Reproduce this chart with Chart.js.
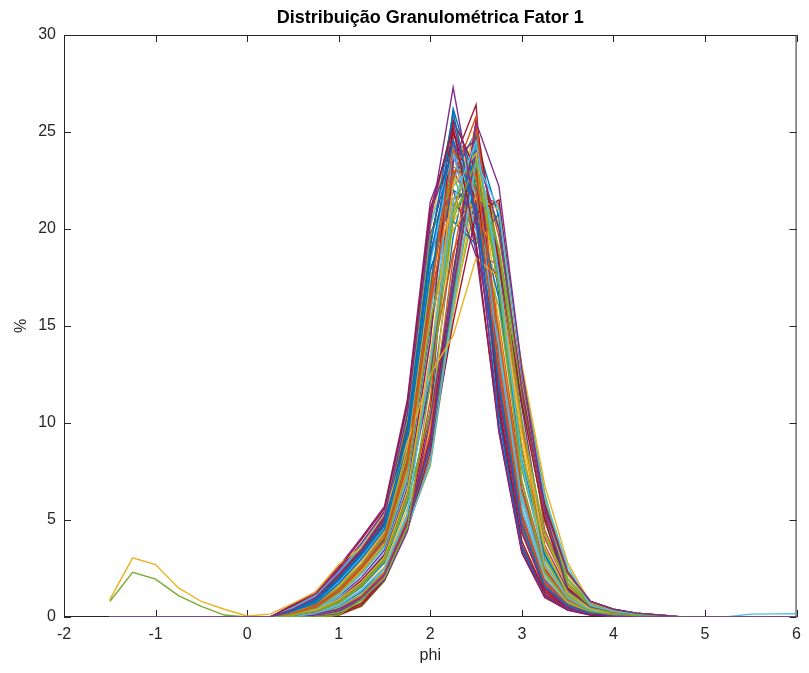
<!DOCTYPE html>
<html>
<head>
<meta charset="utf-8">
<script src="https://cdn.jsdelivr.net/npm/chart.js@4.4.3/dist/chart.umd.min.js"></script>
<style>
  html, body { margin: 0; padding: 0; background: #fff; }
  #wrap { width: 809px; height: 673px; }
</style>
</head>
<body>
<div id="wrap"><canvas id="c" width="809" height="673"></canvas></div>
<script>
(function () {
  'use strict';

  var TITLE = 'Distribuição Granulométrica Fator 1';
  var X_LABEL = 'phi';
  var Y_LABEL = '%';

  // phi classes (x values)
  var phi = [-1.5, -1.25, -1, -0.75, -0.5, -0.25, 0, 0.25,
    0.5, 0.75, 1, 1.25, 1.5, 1.75, 2, 2.25, 2.5, 2.75, 3, 3.25, 3.5, 3.75, 4, 4.25, 4.5,
    4.75, 5, 5.25, 5.5, 5.75, 6];

  var xTicks = [-2, -1, 0, 1, 2, 3, 4, 5, 6];
  var yTicks = [0, 5, 10, 15, 20, 25, 30];

  // sample curves (% per class)
  var cPeak     = [0,0,0,0,0,0,0,0, 0.4,1.0,2.2,3.5,5.2,10.5,20.3,27.3,20.7,9.6,3.4,1.1,0.4,0.15,0.05,0,0, 0,0,0,0,0,0];
  var cGreen    = [0.8,2.3,1.95,1.1,0.55,0.1,0,0, 0,0,0.1,0.9,2.0,4.6,12.0,20.5,23.5,17.0,7.0,2.3,0.8,0.3,0.1,0.05,0, 0,0,0,0,0,0];
  var cTail     = [0,0,0,0,0,0,0,0, 0,0.2,0.6,1.4,2.5,5.3,13.2,21.4,24.5,17.6,8.0,2.7,1.0,0.35,0.1,0.05,0, 0,0,0.02,0.15,0.16,0.17];
  var cYellow   = [0.9,3.05,2.7,1.5,0.8,0.4,0.05,0.15, 0.7,1.3,2.7,3.6,5.3,9.0,12.5,14.5,18.5,17.5,9.5,3.6,1.2,0.4,0.15,0.05,0, 0,0,0,0,0,0];
  var cShoulder = [0,0,0,0,0,0,0,0, 0,0.1,0.3,0.9,1.9,4.4,10.2,17.5,25.5,22.2,12.8,5.6,2.3,0.8,0.4,0.2,0.1, 0,0,0,0,0,0];
  var c01 = [0,0,0,0,0,0,0,0, 0.6,1.2,2.5,4.0,5.6,11.0,21.0,25.2,19.3,9.5,3.3,1.0,0.35,0.1,0.05,0,0, 0,0,0,0,0,0];
  var c02 = [0,0,0,0,0,0,0,0, 0.3,0.8,1.9,3.2,4.7,9.4,18.5,24.6,21.0,12.0,4.8,1.6,0.6,0.2,0.1,0.05,0, 0,0,0,0,0,0];
  var c03 = [0,0,0,0,0,0,0,0, 0.2,0.5,1.3,2.5,3.9,7.8,16.0,23.0,22.8,14.5,6.5,2.4,0.9,0.3,0.15,0.05,0, 0,0,0,0,0,0];
  var c04 = [0,0,0,0,0,0,0,0, 0.1,0.3,0.8,1.7,3.0,6.2,13.0,21.0,24.5,17.0,8.5,3.4,1.3,0.45,0.2,0.1,0.1, 0,0,0,0,0,0];
  var c05 = [0,0,0,0,0,0,0,0, 0,0.1,0.3,0.9,2.0,4.6,8.0,16.0,23.5,21.0,12.6,6.2,2.6,0.6,0.3,0.15,0.05, 0,0,0,0,0,0];
  var c06 = [0,0,0,0,0,0,0,0, 0,0,0.1,0.6,1.9,4.5,8.5,15.2,20.8,21.5,12.5,5.8,2.3,0.8,0.4,0.2,0.1, 0,0,0,0,0,0];
  var c07 = [0,0,0,0,0,0,0,0, 0.35,0.9,2.0,3.3,4.9,9.7,19.0,26.0,20.4,10.2,3.6,1.1,0.4,0.15,0.05,0,0, 0,0,0,0,0,0];
  var c08 = [0,0,0,0,0,0,0,0, 0.2,0.6,1.4,2.6,4.1,8.1,16.6,24.1,22.0,12.6,5.0,1.7,0.6,0.2,0.1,0.05,0, 0,0,0,0,0,0];
  var c09 = [0,0,0,0,0,0,0,0, 0.1,0.35,0.9,1.8,3.1,6.5,13.5,22.3,23.9,17.0,9.0,2.6,1.0,0.3,0.15,0.05,0, 0,0,0,0,0,0];
  var c10 = [0,0,0,0,0,0,0,0, 0,0.15,0.4,1.0,2.2,4.9,9.0,17.0,24.0,20.0,11.8,5.5,1.4,0.5,0.2,0.1,0.05, 0,0,0,0,0,0];
  var c11 = [0,0,0,0,0,0,0,0, 0.15,0.45,1.2,2.3,3.7,7.4,15.2,20.9,22.4,19.0,10.1,4.3,1.7,0.55,0.25,0.1,0.05, 0,0,0,0,0,0];
  var c12 = [0,0,0,0,0,0,0,0, 0.5,1.1,2.3,3.7,5.3,10.6,20.2,23.8,20.0,14.0,6.2,2.3,0.85,0.3,0.1,0.05,0, 0,0,0,0,0,0];
  var c13 = [0,0,0,0,0,0,0,0, 0.1,0.3,0.9,1.9,3.2,6.6,14.2,25.6,23.0,10.8,3.7,1.2,0.4,0.15,0.05,0,0, 0,0,0,0,0,0];
  var c14 = [0,0,0,0,0,0,0,0, 0.3,0.7,1.7,3.0,4.5,9.0,17.8,22.0,21.2,16.4,8.1,3.2,1.2,0.4,0.2,0.1,0.05, 0,0,0,0,0,0];
  var c15 = [0,0,0,0,0,0,0,0, 0,0.1,0.35,1.0,2.1,4.8,11.2,22.6,25.8,13.2,5.3,1.8,0.65,0.2,0.1,0.05,0, 0,0,0,0,0,0];
  var c16 = [0,0,0,0,0,0,0,0, 0.2,0.5,1.2,2.4,3.8,7.6,15.4,20.0,21.6,21.0,12.0,5.5,2.2,0.75,0.35,0.15,0.05, 0,0,0,0,0,0];
  var c17 = [0,0,0,0,0,0,0,0, 0.55,1.1,2.4,3.8,5.4,10.8,20.6,25.5,20.8,11.5,4.4,1.5,0.5,0.2,0.05,0,0, 0,0,0,0,0,0];
  var c18 = [0,0,0,0,0,0,0,0, 0.1,0.3,0.7,1.6,2.9,6.0,10.5,17.5,23.4,19.0,12.2,6.0,1.7,0.55,0.25,0.1,0.05, 0,0,0,0,0,0];
  var c19 = [0,0,0,0,0,0,0,0, 0.3,0.8,1.8,3.1,4.6,9.2,18.2,23.9,21.8,13.9,6.0,2.2,0.8,0.3,0.1,0.05,0, 0,0,0,0,0,0];
  var c20 = [0,0,0,0,0,0,0,0, 0,0,0.15,0.7,2.0,4.7,9.2,17.6,25.6,18.2,11.0,5.0,1.5,0.5,0.2,0.1,0.05, 0,0,0,0,0,0];
  var c21 = [0,0,0,0,0,0,0,0, 0.2,0.55,1.35,2.55,4.0,8.0,16.8,26.2,22.2,10.5,3.5,1.1,0.4,0.15,0.05,0,0, 0,0,0,0,0,0];
  var c22 = [0,0,0,0,0,0,0,0, 0,0.1,0.4,1.1,2.3,5.0,9.5,18.5,25.2,18.5,10.0,2.7,1.0,0.35,0.15,0.05,0, 0,0,0,0,0,0];
  var c23 = [0,0,0,0,0,0,0,0, 0.25,0.7,1.6,2.9,4.4,8.8,17.4,21.4,20.6,18.6,9.8,4.2,1.6,0.55,0.25,0.1,0.05, 0,0,0,0,0,0];
  var c24 = [0,0,0,0,0,0,0,0, 0.1,0.3,0.85,1.75,3.05,6.3,12.0,23.6,24.6,12.4,4.9,1.7,0.6,0.2,0.1,0.05,0, 0,0,0,0,0,0];
  var c25 = [0,0,0,0,0,0,0,0, 0.45,1.0,2.2,3.6,5.2,10.2,19.6,22.8,19.6,16.0,7.6,3.0,1.1,0.4,0.15,0.05,0, 0,0,0,0,0,0];
  var c26 = [0,0,0,0,0,0,0,0, 0.2,0.5,1.25,2.45,3.85,7.7,15.7,22.2,23.6,18.4,10.2,3.3,1.25,0.4,0.2,0.1,0.05, 0,0,0,0,0,0];
  var c27 = [0,0,0,0,0,0,0,0, 0,0.1,0.3,0.95,2.05,4.7,10.6,23.4,26.4,11.0,3.9,1.3,0.45,0.15,0.05,0,0, 0,0,0,0,0,0];
  var c28 = [0,0,0,0,0,0,0,0, 0.3,0.75,1.75,3.1,4.6,9.1,18.0,20.4,19.2,20.8,12.0,5.6,2.2,0.75,0.35,0.15,0.05, 0,0,0,0,0,0];
  var c29 = [0,0,0,0,0,0,0,0, 0.1,0.25,0.75,1.65,2.95,6.1,12.8,18.8,21.8,21.3,12.3,5.7,2.25,0.8,0.4,0.2,0.1, 0,0,0,0,0,0];
  var c30 = [0,0,0,0,0,0,0,0, 0,0,0.1,0.65,1.95,4.6,9.6,20.6,25.4,15.0,6.1,2.1,0.75,0.25,0.1,0.05,0, 0,0,0,0,0,0];
  var c31 = [0,0,0,0,0,0,0,0, 0.5,1.05,2.3,3.7,5.3,10.4,19.8,22.0,18.6,18.2,9.6,4.1,1.6,0.55,0.25,0.1,0.05, 0,0,0,0,0,0];
  var c32 = [0,0,0,0,0,0,0,0, 0.25,0.6,1.5,2.7,4.2,8.4,17.0,23.2,22.6,14.0,6.0,2.2,0.85,0.3,0.1,0.05,0, 0,0,0,0,0,0];
  var c33 = [0,0,0,0,0,0,0,0, 0.15,0.4,1.0,1.9,3.3,6.8,14.5,22.6,24.2,18.0,10.0,3.1,1.2,0.4,0.2,0.1,0.05, 0,0,0,0,0,0];
  var c34 = [0,0,0,0,0,0,0,0, 0.4,0.9,2.1,3.4,5.0,9.9,19.3,25.0,21.4,11.4,4.4,1.4,0.5,0.2,0.05,0,0, 0,0,0,0,0,0];
  var c35 = [0,0,0,0,0,0,0,0, 0,0.1,0.35,1.05,2.15,4.8,8.8,16.8,24.6,20.6,12.0,5.8,1.6,0.55,0.25,0.1,0.05, 0,0,0,0,0,0];
  var c36 = [0,0,0,0,0,0,0,0, 0.2,0.5,1.3,2.5,3.9,7.9,16.3,24.8,23.4,12.2,4.7,1.6,0.55,0.2,0.1,0.05,0, 0,0,0,0,0,0];
  var c37 = [0,0,0,0,0,0,0,0, 0.1,0.3,0.8,1.7,3.0,6.3,13.2,21.6,23.0,17.8,9.6,2.8,1.05,0.35,0.15,0.05,0, 0,0,0,0,0,0];
  var c38 = [0,0,0,0,0,0,0,0, 0.65,1.3,2.6,4.1,5.7,11.2,21.4,24.6,18.8,9.8,3.4,1.05,0.35,0.1,0.05,0,0, 0,0,0,0,0,0];
  var c39 = [0,0,0,0,0,0,0,0, 0,0,0.1,0.55,1.85,4.5,8.8,16.5,22.6,20.2,11.2,5.0,2.0,0.7,0.3,0.15,0.05, 0,0,0,0,0,0];
  var c40 = [0,0,0,0,0,0,0,0, 0.3,0.75,1.85,3.15,4.65,9.3,18.4,24.2,22.0,13.4,5.6,2.0,0.75,0.25,0.1,0.05,0, 0,0,0,0,0,0];
  var c41 = [0,0,0,0,0,0,0,0, 0.2,0.55,1.35,2.55,4.0,8.0,16.4,21.6,22.0,18.0,11.4,5.2,1.5,0.5,0.25,0.1,0.05, 0,0,0,0,0,0];
  var c42 = [0,0,0,0,0,0,0,0, 0.1,0.35,0.95,1.85,3.15,6.6,12.2,22.8,25.0,11.8,4.6,1.6,0.55,0.2,0.1,0.05,0, 0,0,0,0,0,0];
  var c43 = [0,0,0,0,0,0,0,0, 0.25,0.65,1.55,2.75,4.3,8.6,17.3,22.9,21.2,15.2,7.0,2.7,1.0,0.35,0.15,0.05,0, 0,0,0,0,0,0];
  var c44 = [0,0,0,0,0,0,0,0, 0.1,0.2,0.6,1.4,2.6,5.6,9.8,15.6,22.3,20.4,13.0,6.8,2.8,0.7,0.3,0.15,0.05, 0,0,0,0,0,0];
  var c45 = [0,0,0,0,0,0,0,0, 0.4,0.95,2.15,3.5,5.1,10.0,19.5,24.3,20.2,13.0,5.3,1.9,0.7,0.25,0.1,0.05,0, 0,0,0,0,0,0];
  var c46 = [0,0,0,0,0,0,0,0, 0,0.05,0.2,0.75,1.95,4.55,9.0,16.0,21.4,21.2,12.8,6.0,2.4,0.8,0.4,0.2,0.1, 0,0,0,0,0,0];
  var c47 = [0,0,0,0,0,0,0,0, 0.15,0.45,1.1,2.2,3.6,7.2,12.5,21.0,24.0,14.4,6.3,2.3,0.9,0.3,0.15,0.05,0, 0,0,0,0,0,0];
  var c48 = [0,0,0,0,0,0,0,0, 0.3,0.8,1.95,3.25,4.8,9.6,18.8,23.0,20.8,14.6,6.6,2.5,0.95,0.35,0.15,0.05,0, 0,0,0,0,0,0];
  var c49 = [0,0,0,0,0,0,0,0, 0.05,0.2,0.55,1.3,2.5,5.3,9.2,17.8,24.4,17.4,11.2,5.0,1.4,0.5,0.2,0.1,0.05, 0,0,0,0,0,0];
  var c50 = [0,0,0,0,0,0,0,0, 0.2,0.6,1.45,2.65,4.1,8.2,16.9,25.0,22.6,11.6,4.3,1.5,0.5,0.2,0.1,0,0, 0,0,0,0,0,0];
  var c51 = [0,0,0,0,0,0,0,0, 0.1,0.3,0.8,1.65,2.9,6.1,13.4,20.4,22.2,18.4,9.6,4.0,1.5,0.5,0.25,0.1,0.05, 0,0,0,0,0,0];
  var c52 = [0,0,0,0,0,0,0,0, 0.5,1.1,2.35,3.8,5.45,10.9,20.9,24.0,19.2,12.4,5.2,1.8,0.65,0.25,0.1,0.05,0, 0,0,0,0,0,0];
  var c53 = [0,0,0,0,0,0,0,0, 0,0.1,0.25,0.85,2.0,4.65,7.8,15.8,23.2,20.0,12.8,6.4,1.9,0.65,0.3,0.15,0.05, 0,0,0,0,0,0];
  var c54 = [0,0,0,0,0,0,0,0, 0.2,0.5,1.25,2.4,3.8,7.5,15.6,23.8,23.8,13.6,5.6,2.0,0.75,0.25,0.1,0.05,0, 0,0,0,0,0,0];
  var c55 = [0,0,0,0,0,0,0,0, 0.35,0.85,2.0,3.3,4.85,9.5,18.7,21.4,20.0,17.2,8.6,3.5,1.3,0.45,0.2,0.1,0.05, 0,0,0,0,0,0];
  var c56 = [0,0,0,0,0,0,0,0, 0.1,0.25,0.7,1.55,2.8,5.9,10.6,19.6,24.8,16.6,7.9,3.0,1.15,0.4,0.15,0.05,0, 0,0,0,0,0,0];
  var c57 = [0,0,0,0,0,0,0,0, 0,0,0.1,0.6,1.9,4.5,8.2,16.4,24.2,19.6,12.4,4.5,1.75,0.6,0.3,0.15,0.05, 0,0,0,0,0,0];
  var c58 = [0,0,0,0,0,0,0,0, 0.45,1.0,2.25,3.6,5.25,10.3,20.0,25.8,21.2,10.8,3.9,1.3,0.45,0.15,0.05,0,0, 0,0,0,0,0,0];
  var c59 = [0,0,0,0,0,0,0,0, 0.15,0.4,1.05,2.05,3.45,7.0,14.8,21.2,22.8,17.6,10.8,3.7,1.4,0.5,0.2,0.1,0.05, 0,0,0,0,0,0];
  var c60 = [0,0,0,0,0,0,0,0, 0.05,0.15,0.45,1.2,2.35,5.1,9.0,17.2,24.9,18.8,11.6,5.4,1.6,0.55,0.25,0.1,0.05, 0,0,0,0,0,0];

  // drawing order; first one ends up on top
  var curves = [cPeak, cGreen, cTail, c01, c02, c03, cYellow, cShoulder,
    c04, c05, c06, c07, c08, c09, c10, c11, c12, c13, c14, c15, c16, c17, c18,
    c19, c20, c21, c22, c23, c24, c25, c26, c27, c28, c29, c30, c31, c32, c33,
    c34, c35, c36, c37, c38, c39, c40, c41, c42, c43, c44, c45, c46, c47, c48,
    c49, c50, c51, c52, c53, c54, c55, c56, c57, c58, c59, c60];

  // MATLAB default line colours
  var PALETTE = ['#0072BD', '#D95319', '#EDB120', '#7E2F8E', '#77AC30', '#4DBEEE', '#A2142F'];

  var AXIS_COLOR = '#262626';
  var FONT = '"Liberation Sans", Arial, Helvetica, sans-serif';

  var datasets = curves.map(function (arr, i) {
    return {
      data: phi.map(function (p, k) { return { x: p, y: arr[k] }; }),
      borderColor: PALETTE[(i + 3) % PALETTE.length],
      borderWidth: 1.4,
      pointRadius: 0,
      fill: false,
      tension: 0
    };
  });

  var boxPlugin = {
    id: 'matlabBox',
    beforeDatasetsDraw: function (chart) {
      var ctx = chart.ctx, a = chart.chartArea;
      var xs = chart.scales.x, ys = chart.scales.y;
      var tl = 7;
      ctx.save();
      ctx.strokeStyle = AXIS_COLOR;
      ctx.lineWidth = 1;
      ctx.strokeRect(a.left + 0.5, a.top + 0.5, a.right - a.left - 1, a.bottom - a.top - 1);
      ctx.beginPath();
      xTicks.forEach(function (v) {
        var px = Math.round(xs.getPixelForValue(v)) + 0.5;
        ctx.moveTo(px, a.bottom); ctx.lineTo(px, a.bottom - tl);
        ctx.moveTo(px, a.top); ctx.lineTo(px, a.top + tl);
      });
      yTicks.forEach(function (v) {
        var py = Math.round(ys.getPixelForValue(v)) + 0.5;
        ctx.moveTo(a.left, py); ctx.lineTo(a.left + tl, py);
        ctx.moveTo(a.right, py); ctx.lineTo(a.right - tl, py);
      });
      ctx.stroke();
      ctx.restore();
    },
    afterDraw: function (chart) {
      var ctx = chart.ctx, a = chart.chartArea;
      var cx = (a.left + a.right) / 2;
      ctx.save();
      ctx.fillStyle = '#000';
      ctx.textAlign = 'center';
      ctx.textBaseline = 'middle';
      ctx.font = 'bold 18px ' + FONT;
      ctx.fillText(TITLE, cx, 18);
      ctx.fillStyle = AXIS_COLOR;
      ctx.font = '16px ' + FONT;
      ctx.fillText(X_LABEL, cx, 656);
      ctx.translate(22, (a.top + a.bottom) / 2);
      ctx.rotate(-Math.PI / 2);
      ctx.fillText(Y_LABEL, 0, 0);
      ctx.restore();
    }
  };

  new Chart(document.getElementById('c'), {
    type: 'line',
    data: { datasets: datasets },
    options: {
      responsive: false,
      animation: false,
      events: [],
      layout: { padding: { top: 35, right: 12, left: 0, bottom: 0 } },
      plugins: { legend: { display: false }, tooltip: { enabled: false }, title: { display: false } },
      scales: {
        x: {
          type: 'linear', min: -2, max: 6,
          afterFit: function (s) { s.height = 56; },
          afterBuildTicks: function (s) { s.ticks = xTicks.map(function (v) { return { value: v }; }); },
          grid: { display: false, drawTicks: false },
          border: { display: false },
          ticks: { color: AXIS_COLOR, padding: 8, font: { size: 16, family: FONT }, maxRotation: 0 }
        },
        y: {
          type: 'linear', min: 0, max: 30,
          afterFit: function (s) { s.width = 64; },
          afterBuildTicks: function (s) { s.ticks = yTicks.map(function (v) { return { value: v }; }); },
          grid: { display: false, drawTicks: false },
          border: { display: false },
          ticks: { color: AXIS_COLOR, padding: 8, font: { size: 16, family: FONT } }
        }
      }
    },
    plugins: [boxPlugin]
  });
})();
</script>
</body>
</html>
